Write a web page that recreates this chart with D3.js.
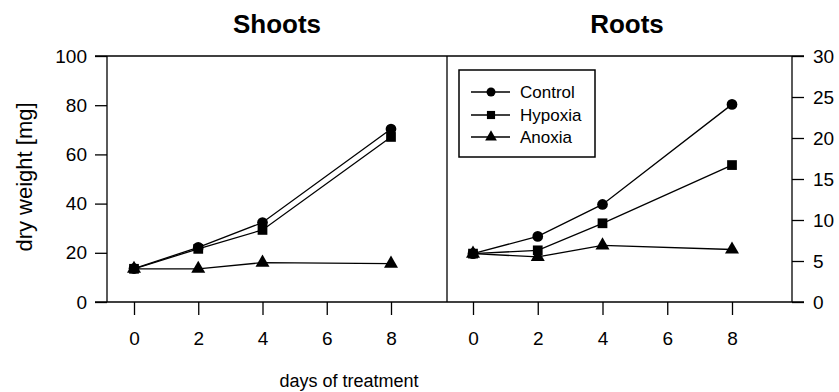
<!DOCTYPE html>
<html>
<head>
<meta charset="utf-8">
<script src="https://cdn.jsdelivr.net/npm/d3@7"></script>
<style>
  html, body { margin: 0; padding: 0; background: #fff; }
  svg { display: block; }
  text { font-family: "Liberation Sans", Arial, Helvetica, sans-serif; fill: #000; }
</style>
</head>
<body>
<svg id="chart" width="839" height="392"></svg>
<script>
// ---- data ----
const days = [0, 2, 4, 8];
const xTicks = [0, 2, 4, 6, 8];
const shootsTicks = [0, 20, 40, 60, 80, 100];
const rootsTicks = [0, 5, 10, 15, 20, 25, 30];
const seriesNames = ["Control", "Hypoxia", "Anoxia"];
const seriesSymbols = ["circle", "square", "triangle"];
const shootsControl = [13.6, 22.2, 32.3, 70.3];
const shootsHypoxia = [13.5, 21.6, 29.3, 67.1];
const shootsAnoxia  = [13.5, 13.5, 16.0, 15.6];
const rootsControl  = [5.9, 8.0, 11.9, 24.1];
const rootsHypoxia  = [5.9, 6.3, 9.6, 16.7];
const rootsAnoxia   = [5.9, 5.5, 6.9, 6.4];
const panelTitles = ["Shoots", "Roots"];
const yTitle = "dry weight [mg]";
const xTitle = "days of treatment";

// ---- layout ----
const svg = d3.select("#chart");
const plotTop = 56, plotBottom = 302;
const leftX1 = 107, midX = 447, rightX2 = 792;

const yShoots = d3.scaleLinear().domain([0, 100]).range([plotBottom, plotTop]);
const yRoots = d3.scaleLinear().domain([0, 30]).range([plotBottom, plotTop]);
const xShoots = d3.scaleLinear().domain([0, 8]).range([134, 391]);
const xRoots = d3.scaleLinear().domain([0, 8]).range([473, 732]);

const symbolType = { circle: d3.symbolCircle, square: d3.symbolSquare, triangle: d3.symbolTriangle };
const symbolSize = { circle: 90, square: 95, triangle: 85 };

function styleAxis(g, fs) {
  g.selectAll("text").style("font-size", fs + "px").style("font-family", "Liberation Sans, Arial, sans-serif").attr("fill", "#000");
  g.selectAll("line").attr("stroke", "#000").attr("stroke-width", 1.3);
  g.select(".domain").remove();
}

// y axes
svg.append("g").attr("transform", `translate(${leftX1},0)`)
  .call(d3.axisLeft(yShoots).tickValues(shootsTicks).tickSize(12).tickPadding(8).tickFormat(d3.format("d")))
  .call(g => styleAxis(g, 19));
svg.append("g").attr("transform", `translate(${rightX2},0)`)
  .call(d3.axisRight(yRoots).tickValues(rootsTicks).tickSize(12).tickPadding(9).tickFormat(d3.format("d")))
  .call(g => styleAxis(g, 19));

// x axes
[xShoots, xRoots].forEach(xs => {
  svg.append("g").attr("transform", `translate(0,${plotBottom})`)
    .call(d3.axisBottom(xs).tickValues(xTicks).tickSize(13).tickPadding(17).tickFormat(d3.format("d")))
    .call(g => styleAxis(g, 19));
});

// frame
const frame = svg.append("g").attr("stroke", "#000").attr("stroke-width", 1.3).attr("fill", "none");
frame.append("line").attr("x1", leftX1 - 12).attr("x2", rightX2 + 12).attr("y1", plotTop).attr("y2", plotTop);
frame.append("line").attr("x1", leftX1 - 12).attr("x2", rightX2 + 12).attr("y1", plotBottom).attr("y2", plotBottom);
frame.append("line").attr("x1", leftX1).attr("x2", leftX1).attr("y1", plotTop).attr("y2", plotBottom);
frame.append("line").attr("x1", midX).attr("x2", midX).attr("y1", plotTop).attr("y2", plotBottom);
frame.append("line").attr("x1", rightX2).attr("x2", rightX2).attr("y1", plotTop).attr("y2", plotBottom);

// series
function drawSeries(xs, ys, values, sym) {
  const pts = days.map((d, i) => [xs(d), ys(values[i])]);
  svg.append("path").attr("d", d3.line()(pts)).attr("fill", "none").attr("stroke", "#000").attr("stroke-width", 1.3);
  svg.append("g").selectAll("path").data(pts).join("path")
    .attr("transform", p => `translate(${p[0]},${p[1]})`)
    .attr("d", d3.symbol().type(symbolType[sym]).size(symbolSize[sym]))
    .attr("fill", "#000");
}
const shootsSeries = [shootsControl, shootsHypoxia, shootsAnoxia];
const rootsSeries = [rootsControl, rootsHypoxia, rootsAnoxia];
[2, 1, 0].forEach(i => {
  drawSeries(xShoots, yShoots, shootsSeries[i], seriesSymbols[i]);
  drawSeries(xRoots, yRoots, rootsSeries[i], seriesSymbols[i]);
});

// titles
svg.append("text").attr("x", 277).attr("y", 33).attr("text-anchor", "middle")
  .style("font-size", "26px").style("font-weight", "bold").text(panelTitles[0]);
svg.append("text").attr("x", 627).attr("y", 33).attr("text-anchor", "middle")
  .style("font-size", "26px").style("font-weight", "bold").text(panelTitles[1]);
svg.append("text").attr("x", 349).attr("y", 387).attr("text-anchor", "middle")
  .style("font-size", "18px").text(xTitle);
svg.append("text").attr("transform", "translate(32,177) rotate(-90)").attr("text-anchor", "middle")
  .style("font-size", "22px").text(yTitle);

// legend
const lg = svg.append("g");
lg.append("rect").attr("x", 459).attr("y", 70).attr("width", 136).attr("height", 87)
  .attr("fill", "#fff").attr("stroke", "#000").attr("stroke-width", 1.5);
const rowY = [92, 115, 137];
seriesNames.forEach((name, i) => {
  lg.append("line").attr("x1", 471).attr("x2", 510).attr("y1", rowY[i]).attr("y2", rowY[i])
    .attr("stroke", "#000").attr("stroke-width", 1.3);
  lg.append("path").attr("transform", `translate(491,${rowY[i]})`)
    .attr("d", d3.symbol().type(symbolType[seriesSymbols[i]]).size(symbolSize[seriesSymbols[i]] * 0.7))
    .attr("fill", "#000");
  lg.append("text").attr("x", 520).attr("y", rowY[i] + 6).style("font-size", "17px").text(name);
});
</script>
</body>
</html>
